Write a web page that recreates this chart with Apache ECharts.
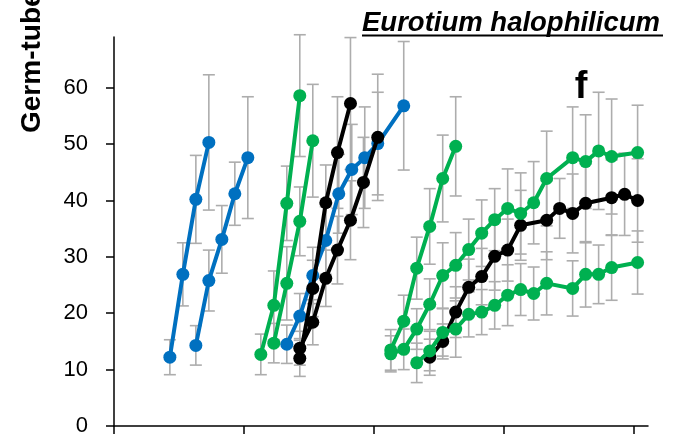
<!DOCTYPE html>
<html>
<head>
<meta charset="utf-8">
<script src="https://cdn.jsdelivr.net/npm/echarts@6/dist/echarts.min.js"></script>
<style>
html,body{margin:0;padding:0;background:#fff;}
#chart{width:687px;height:443px;}
</style>
</head>
<body>
<div id="chart"></div>
<script>
// ---- data (x in axis units, y = germ-tube value, e = error bar half-length)
const yTicks = [0, 10, 20, 30, 40, 50, 60];
const xTicks = [0, 10, 20, 30, 40];

const blueAx = [4.3, 5.3, 6.3, 7.3];
const blueAy = [12.2, 26.9, 40.2, 50.3];
const blueAe = [3.1, 5.6, 7.8, 12.0];

const blueBx = [6.3, 7.3, 8.3, 9.3, 10.3];
const blueBy = [14.3, 25.8, 33.1, 41.2, 47.6];
const blueBe = [3.5, 5.4, 6.0, 5.6, 10.8];

const blueCx = [13.3, 14.3, 15.3, 16.3, 17.3, 18.3, 19.3, 20.3, 22.3];
const blueCy = [14.5, 19.5, 26.7, 32.9, 41.2, 45.5, 47.6, 50.1, 56.8];
const blueCe = [3.4, 4.0, 5.0, 6.0, 7.0, 8.0, 9.0, 9.1, 11.4];

const blackDx = [14.3, 15.3, 16.3, 17.2, 18.2];
const blackDy = [12.0, 24.4, 39.6, 48.5, 57.2];
const blackDe = [3.2, 5.0, 6.7, 9.9, 11.7];

const blackEx = [14.3, 15.3, 16.3, 17.2, 18.2, 19.2, 20.3];
const blackEy = [13.8, 18.4, 26.2, 31.2, 36.5, 43.2, 51.2];
const blackEe = [3.0, 4.0, 5.0, 6.0, 7.0, 8.0, 11.2];

const blackIx = [24.3, 25.3, 26.3, 27.3, 28.3, 29.3, 30.3, 31.3, 33.3, 34.3, 35.3, 36.3, 38.3, 39.3, 40.3];
const blackIy = [12.2, 15.0, 20.2, 24.6, 26.5, 30.1, 31.2, 35.6, 36.5, 38.6, 37.7, 39.5, 40.5, 41.1, 40.0];
const blackIe = [3.2, 3.1, 4.5, 5.0, 5.0, 6.0, 5.5, 6.2, 7.0, 5.3, 7.0, 7.0, 6.7, 7.3, 7.4];

const greenAx = [11.3, 12.3, 13.3, 14.3];
const greenAy = [12.7, 21.4, 39.5, 58.6];
const greenAe = [3.6, 6.1, 6.6, 10.8];

const greenBx = [12.3, 13.3, 14.3, 15.3];
const greenBy = [14.7, 25.3, 36.3, 50.6];
const greenBe = [3.5, 6.5, 6.1, 10.0];

const greenFx = [21.3, 22.3, 23.3, 24.3, 25.3, 26.3];
const greenFy = [13.5, 18.6, 28.0, 35.4, 43.9, 49.6];
const greenFe = [3.6, 4.6, 5.5, 6.7, 7.7, 8.8];

const greenGx = [21.3, 22.3, 23.3, 24.3, 25.3, 26.3, 27.3, 28.3, 29.3, 30.3, 31.3, 32.3, 33.3, 35.3, 36.3, 37.3, 38.3, 40.3];
const greenGy = [12.8, 13.6, 17.2, 21.6, 26.7, 28.5, 31.3, 34.2, 36.6, 38.6, 37.7, 39.6, 43.9, 47.6, 46.9, 48.8, 47.8, 48.5];
const greenGe = [3.2, 3.6, 3.6, 4.5, 5.8, 5.8, 5.4, 5.9, 5.5, 7.0, 7.2, 7.3, 8.4, 9.0, 8.3, 10.4, 10.2, 8.4];

const greenHx = [23.3, 24.3, 25.3, 26.3, 27.3, 28.3, 29.3, 30.3, 31.3, 32.3, 33.3, 35.3, 36.3, 37.3, 38.3, 40.3];
const greenHy = [11.2, 13.3, 16.6, 17.2, 19.8, 20.2, 21.4, 23.2, 24.2, 23.5, 25.3, 24.4, 26.9, 26.9, 28.1, 29.0];
const greenHe = [3.5, 3.5, 4.2, 5.0, 4.0, 4.0, 4.2, 5.4, 4.6, 4.7, 5.6, 4.9, 5.8, 5.2, 5.8, 5.6];

const BLUE = '#0070C0', GREEN = '#00B050', BLACK = '#000000', GRAY = '#ADADAD';

const groups = [
  {name: 'Blue A', color: BLUE, x: blueAx, y: blueAy, e: blueAe},
  {name: 'Blue B', color: BLUE, x: blueBx, y: blueBy, e: blueBe},
  {name: 'Blue C', color: BLUE, x: blueCx, y: blueCy, e: blueCe},
  {name: 'Black D', color: BLACK, x: blackDx, y: blackDy, e: blackDe},
  {name: 'Black E', color: BLACK, x: blackEx, y: blackEy, e: blackEe},
  {name: 'Black I', color: BLACK, x: blackIx, y: blackIy, e: blackIe},
  {name: 'Green A', color: GREEN, x: greenAx, y: greenAy, e: greenAe},
  {name: 'Green B', color: GREEN, x: greenBx, y: greenBy, e: greenBe},
  {name: 'Green F', color: GREEN, x: greenFx, y: greenFy, e: greenFe},
  {name: 'Green G', color: GREEN, x: greenGx, y: greenGy, e: greenGe},
  {name: 'Green H', color: GREEN, x: greenHx, y: greenHy, e: greenHe}
];

const errData = [];
groups.forEach(g => g.x.forEach((x, i) => errData.push([x, g.y[i], g.e[i]])));

const series = [{
  type: 'custom',
  name: 'error bars',
  clip: false,
  z: 1,
  silent: true,
  data: errData,
  encode: {x: 0, y: 1},
  renderItem: function (params, api) {
    const x = api.value(0), y = api.value(1), e = api.value(2);
    const t = api.coord([x, y + e]);
    const b = api.coord([x, y - e]);
    const cw = 6;
    const st = {stroke: GRAY, lineWidth: 1.6};
    return {
      type: 'group',
      children: [
        {type: 'line', shape: {x1: t[0], y1: t[1], x2: b[0], y2: b[1]}, style: st},
        {type: 'line', shape: {x1: t[0] - cw, y1: t[1], x2: t[0] + cw, y2: t[1]}, style: st},
        {type: 'line', shape: {x1: b[0] - cw, y1: b[1], x2: b[0] + cw, y2: b[1]}, style: st}
      ]
    };
  }
}];

groups.forEach((g, k) => {
  series.push({
    type: 'line',
    name: g.name,
    z: 2 + k,
    data: g.x.map((x, i) => [x, g.y[i]]),
    symbol: 'circle',
    symbolSize: 13,
    showSymbol: true,
    clip: false,
    lineStyle: {color: g.color, width: 4},
    itemStyle: {color: g.color, borderColor: g.color, borderWidth: 0},
    emphasis: {disabled: true}
  });
});

const chart = echarts.init(document.getElementById('chart'), null, {renderer: 'canvas'});
chart.setOption({
  animation: false,
  backgroundColor: '#ffffff',
  grid: {left: 114, right: 39, top: 37, bottom: 17, containLabel: false},
  xAxis: {
    type: 'value',
    min: 0,
    max: 41.1,
    interval: 10,
    axisLine: {show: true, lineStyle: {color: '#000', width: 1.5}},
    axisTick: {show: true, inside: false, length: 8, lineStyle: {color: '#000', width: 1.5}, customValues: xTicks},
    axisLabel: {show: false},
    splitLine: {show: false}
  },
  yAxis: {
    type: 'value',
    min: 0,
    max: 69,
    interval: 10,
    axisLine: {show: true, lineStyle: {color: '#000', width: 1.5}},
    axisTick: {show: true, inside: false, length: 8, lineStyle: {color: '#000', width: 1.5}, customValues: yTicks},
    axisLabel: {
      show: true, margin: 26, color: '#000',
      fontFamily: 'Liberation Sans', fontSize: 22,
      customValues: yTicks
    },
    splitLine: {show: false}
  },
  graphic: [
    {
      type: 'text', x: 362, y: 23, z: 100,
      style: {text: 'Eurotium halophilicum', font: 'italic bold 27.5px "Liberation Sans"', fill: '#000', textAlign: 'left', textVerticalAlign: 'middle'}
    },
    {
      type: 'line', z: 100,
      shape: {x1: 362, y1: 35.5, x2: 663, y2: 35.5},
      style: {stroke: '#000', lineWidth: 2}
    },
    {
      type: 'text', x: 581, y: 88, z: 100,
      style: {text: 'f', font: 'bold 38px "Liberation Sans"', fill: '#000', textAlign: 'center', textVerticalAlign: 'middle'}
    },
    {
      type: 'text', x: 32, y: 133, rotation: Math.PI / 2, z: 100,
      style: {text: 'Germ-tube length (μm)', font: 'bold 28px "Liberation Sans"', fill: '#000', textAlign: 'left', textVerticalAlign: 'middle'}
    }
  ],
  series: series
});
</script>
</body>
</html>
